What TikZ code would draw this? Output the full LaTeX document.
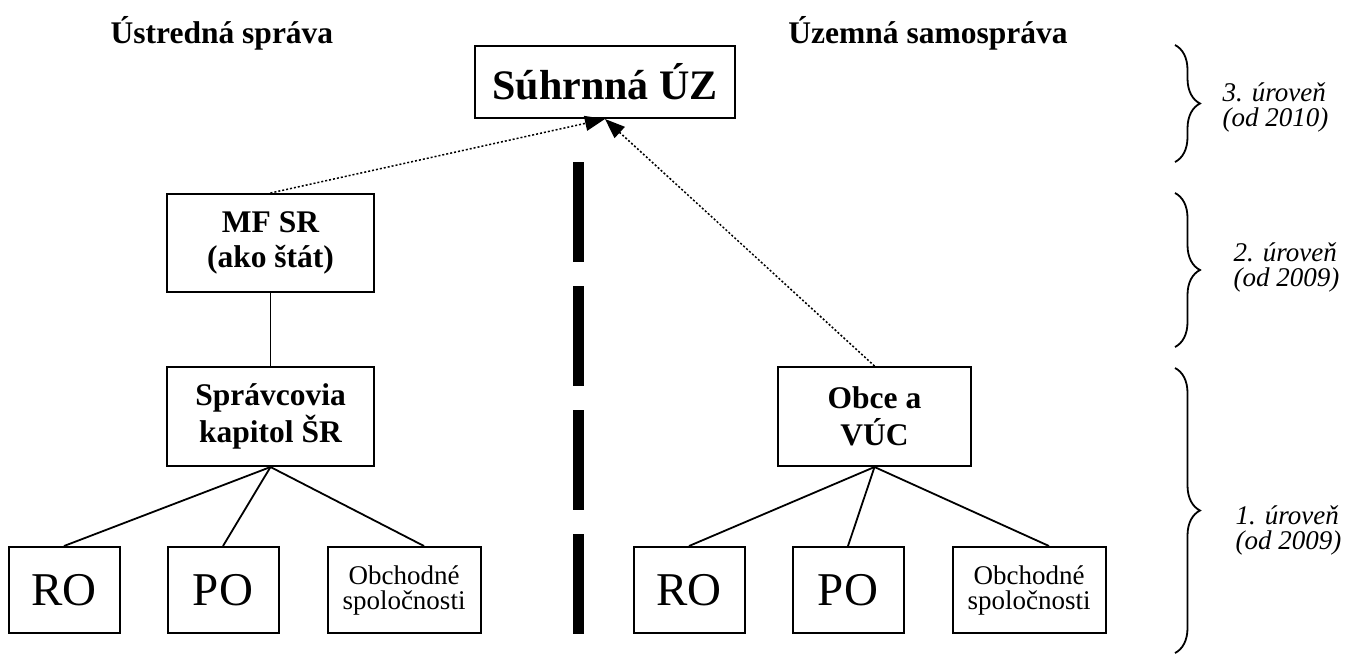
\documentclass[tikz,border=0pt]{standalone}
\usepackage{fontspec}
\setmainfont{Liberation Serif}
\usetikzlibrary{arrows.meta,decorations.pathreplacing,positioning}

\tikzset{
  box/.style={draw, line width=2pt, inner sep=0pt, align=center},
  headtext/.style={font=\fontsize{31.5}{35}\selectfont\bfseries},
  bigtext/.style={font=\fontsize{47}{50}\selectfont},
  smalltext/.style={font=\fontsize{27}{25}\selectfont},
  leveltext/.style={font=\fontsize{27}{25}\selectfont\itshape, align=left, anchor=west},
  link/.style={line width=1.8pt},
  upto/.style={line width=1.5pt, dash pattern=on 2pt off 2pt, -{Triangle[length=20pt,width=15pt]}},
  levelbrace/.style={decorate, decoration={brace, amplitude=25pt}, line width=1.8pt},
}

\begin{document}
\begin{tikzpicture}[x=1pt,y=-1pt]
    \useasboundingbox (0,0) rectangle (1346,657);

    % Column headings
    \node[headtext, anchor=base] (hdl) at (222,43) {Ústredná správa};
    \node[headtext, anchor=base] (hdr) at (928,43) {Územná samospráva};

    % Top level box
    \node[box, font=\fontsize{42}{46}\selectfont\bfseries,
          minimum width=260pt, minimum height=72pt] (suz) at (605,82) {Súhrnná ÚZ};

    % Dividing line between the two sides
    \coordinate (septop) at (578,162);
    \coordinate (sepbot) at (578,634);
    \draw[line width=11pt, dash pattern=on 100pt off 24pt] (septop) -- (sepbot);

    % Central government side
    \node[box, headtext, minimum width=207pt, minimum height=98pt] (mfsr) at (270.5,243) {MF SR\\(ako štát)};
    \node[box, headtext, font=\fontsize{31.5}{37}\selectfont\bfseries,
          minimum width=207pt, minimum height=99pt] (spr) at (270.5,416.5) {Správcovia\\kapitol ŠR};
    \draw[link] (mfsr) -- (spr);

    % Local government side
    \node[box, headtext, font=\fontsize{31.5}{37}\selectfont\bfseries,
          minimum width=193pt, minimum height=99pt] (obce) at (874.5,416.5) {Obce a\\VÚC};

    % Bottom row on both sides
    \foreach \s/\dx/\up in {l/0/spr, r/625/obce} {
        \node[box, bigtext, minimum width=111pt, minimum height=86pt] (ro\s) at ({64+\dx},590) {RO};
        \node[box, bigtext, minimum width=111pt, minimum height=86pt] (po\s) at ({223+\dx},590) {PO};
        \node[box, smalltext, minimum width=153pt, minimum height=86pt] (ob\s) at ({404+\dx},590) {Obchodné\\spoločnosti};
        \draw[link] (\up.south) -- (ro\s.north);
        \draw[link] (\up.south) -- (po\s.north);
        \draw[link] (\up.south) -- ([xshift=20pt]ob\s.north);
    }

    % Dotted arrows to the summary
    \draw[upto] (mfsr.north) -- (suz.south);
    \draw[upto] (obce.north) -- (suz.south);

    % Levels on the right
    \draw[levelbrace] (1175,45) -- (1175,162);
    \draw[levelbrace] (1175,193) -- (1175,347);
    \draw[levelbrace] (1175,368) -- (1175,653);
    \node[leveltext] (lev3) at (1219,107.5) {3. úroveň\\(od 2010)};
    \node[leveltext] (lev2) at (1230,267.5) {2. úroveň\\(od 2009)};
    \node[leveltext] (lev1) at (1232,530.5) {1. úroveň\\(od 2009)};
\end{tikzpicture}
\end{document}
